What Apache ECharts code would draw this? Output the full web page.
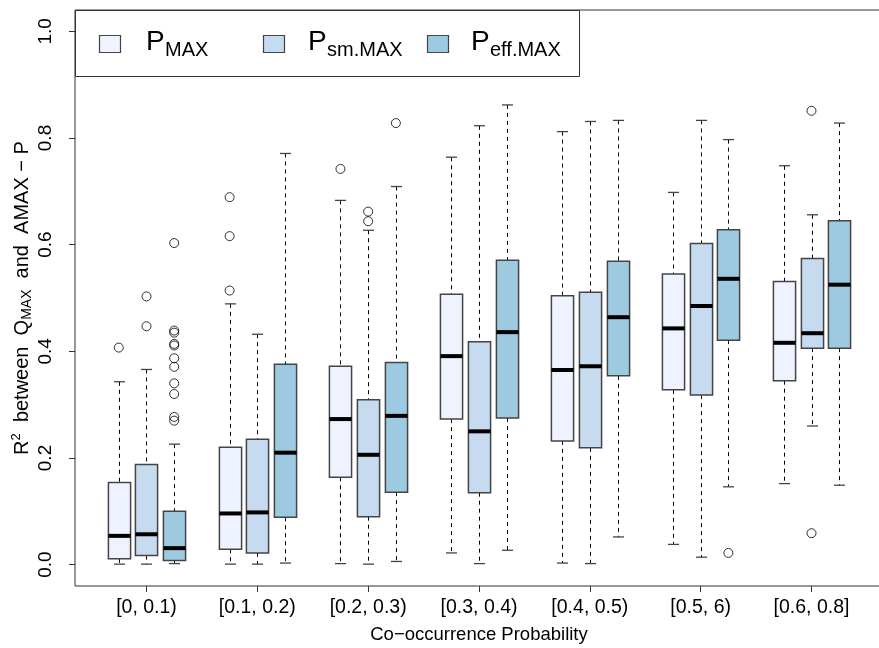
<!DOCTYPE html>
<html>
<head>
<meta charset="utf-8">
<script src="https://cdn.jsdelivr.net/npm/echarts@6/dist/echarts.min.js"></script>
<style>
  html, body { margin: 0; padding: 0; background: #fff; }
  #chart { width: 879px; height: 648px; }
</style>
</head>
<body>
<div id="chart"></div>
<script>
const categories = ["[0, 0.1)", "[0.1, 0.2)", "[0.2, 0.3)", "[0.3, 0.4)", "[0.4, 0.5)", "[0.5, 6)", "[0.6, 0.8]"];
const seriesNames = ["P_MAX", "P_sm.MAX", "P_eff.MAX"];
const yTicks = [0, 0.2, 0.4, 0.6, 0.8, 1.0];

// each row: [lower whisker, Q1, median, Q3, upper whisker]
const pMax = [
  [0.001, 0.011, 0.054, 0.154, 0.343],
  [0.001, 0.029, 0.096, 0.220, 0.489],
  [0.002, 0.164, 0.273, 0.372, 0.683],
  [0.022, 0.273, 0.391, 0.507, 0.764],
  [0.003, 0.232, 0.365, 0.504, 0.812],
  [0.038, 0.328, 0.443, 0.545, 0.698],
  [0.152, 0.345, 0.416, 0.531, 0.748]
];
const pSmMax = [
  [0.001, 0.017, 0.057, 0.188, 0.366],
  [0.001, 0.022, 0.098, 0.235, 0.432],
  [0.001, 0.090, 0.206, 0.309, 0.627],
  [0.002, 0.135, 0.250, 0.418, 0.823],
  [0.002, 0.219, 0.372, 0.511, 0.831],
  [0.014, 0.318, 0.485, 0.602, 0.833],
  [0.260, 0.406, 0.434, 0.574, 0.656]
];
const pEffMax = [
  [0.002, 0.008, 0.031, 0.100, 0.226],
  [0.003, 0.089, 0.210, 0.376, 0.771],
  [0.006, 0.136, 0.279, 0.379, 0.709],
  [0.027, 0.275, 0.436, 0.571, 0.862],
  [0.052, 0.354, 0.464, 0.569, 0.833],
  [0.146, 0.421, 0.536, 0.628, 0.797],
  [0.149, 0.406, 0.525, 0.645, 0.828]
];

// outliers: [group index, value]
const pMaxOut = [[0, 0.407], [1, 0.689], [1, 0.616], [1, 0.514], [2, 0.742]];
const pSmMaxOut = [[0, 0.503], [0, 0.447], [2, 0.662], [2, 0.644], [6, 0.851], [6, 0.059]];
const pEffMaxOut = [
  [0, 0.603], [0, 0.439], [0, 0.435], [0, 0.414], [0, 0.411], [0, 0.387],
  [0, 0.371], [0, 0.340], [0, 0.320], [0, 0.277], [0, 0.270], [2, 0.828], [5, 0.022]
];

const colors = ["#EFF3FF", "#C6DBEF", "#9ECAE1"];
const NARROW = "'Liberation Sans Narrow', 'Liberation Sans', Arial, sans-serif";
const SANS = "'Liberation Sans', Arial, sans-serif";

// boxes sit at 1,2,3 | 5,6,7 | ... ; group centre at 4*g+2
function boxData(stats, s) {
  return stats.map((r, g) => [4 * g + 1 + s].concat(r));
}
function outData(list, s) {
  return list.map((o) => [4 * o[0] + 1 + s, o[1]]);
}

function renderBox(params, api) {
  const x = api.value(0);
  const lo = api.coord([x, api.value(1)]);
  const q1 = api.coord([x, api.value(2)]);
  const med = api.coord([x, api.value(3)]);
  const q3 = api.coord([x, api.value(4)]);
  const hi = api.coord([x, api.value(5)]);
  const w = api.size([0.8, 0])[0];
  const cx = Math.round(lo[0]) + 0.5;
  const cap = w / 4;
  const dash = { stroke: "#000", lineWidth: 1, lineDash: [4, 4] };
  const capStyle = { stroke: "#444", lineWidth: 1.3 };
  return {
    type: "group",
    children: [
      { type: "line", shape: { x1: cx, y1: hi[1], x2: cx, y2: q3[1] }, style: dash },
      { type: "line", shape: { x1: cx, y1: q1[1], x2: cx, y2: lo[1] }, style: dash },
      { type: "line", shape: { x1: cx - cap, y1: hi[1], x2: cx + cap, y2: hi[1] }, style: capStyle },
      { type: "line", shape: { x1: cx - cap, y1: lo[1], x2: cx + cap, y2: lo[1] }, style: capStyle },
      {
        type: "rect",
        shape: { x: cx - w / 2, y: q3[1], width: w, height: q1[1] - q3[1] },
        style: { fill: api.visual("color"), stroke: "#444", lineWidth: 1.5 }
      },
      {
        type: "line",
        shape: { x1: cx - w / 2, y1: med[1], x2: cx + w / 2, y2: med[1] },
        style: { stroke: "#000", lineWidth: 4 }
      }
    ]
  };
}

const allStats = [pMax, pSmMax, pEffMax];
const allOut = [pMaxOut, pSmMaxOut, pEffMaxOut];
const series = [];
allStats.forEach((st, s) => {
  series.push({
    name: seriesNames[s],
    type: "custom",
    renderItem: renderBox,
    itemStyle: { color: colors[s] },
    encode: { x: 0, y: [1, 2, 3, 4, 5] },
    data: boxData(st, s)
  });
});
allOut.forEach((o, s) => {
  series.push({
    name: seriesNames[s],
    type: "scatter",
    symbol: "circle",
    symbolSize: 9,
    itemStyle: { color: "rgba(0,0,0,0)", borderColor: "#000", borderWidth: 1 },
    data: outData(o, s)
  });
});

// legend drawn by hand to copy the R layout
const legendX = [99, 263, 427];
const legendP = [146, 308, 471];
const legendSub = ["MAX", "sm.MAX", "eff.MAX"];
const graphics = [
  {
    type: "rect",
    shape: { x: 75.5, y: 10.5, width: 504, height: 66 },
    style: { fill: "#fff", stroke: "#333", lineWidth: 1 },
    z: 10
  }
];
legendX.forEach((lx, i) => {
  graphics.push({
    type: "rect",
    shape: { x: lx + 0.5, y: 35.5, width: 21, height: 17 },
    style: { fill: colors[i], stroke: "#444", lineWidth: 1.2 },
    z: 11
  });
  graphics.push({
    type: "text",
    x: legendP[i],
    y: 42,
    style: { text: "P", font: "28px " + SANS, fill: "#000", verticalAlign: "middle" },
    z: 11
  });
  graphics.push({
    type: "text",
    x: legendP[i] + 19,
    y: 50,
    style: { text: legendSub[i], font: "20px " + SANS, fill: "#000", verticalAlign: "middle" },
    z: 11
  });
});

const chart = echarts.init(document.getElementById("chart"));
chart.setOption({
  animation: false,
  backgroundColor: "#fff",
  grid: {
    show: true,
    left: 75,
    right: -4,
    top: 10,
    bottom: 62,
    outerBoundsMode: "none",
    containLabel: false,
    borderColor: "#333",
    borderWidth: 1,
    backgroundColor: "rgba(0,0,0,0)"
  },
  xAxis: {
    type: "value",
    min: -0.58,
    max: 28.58,
    name: "Co\u2212occurrence Probability",
    nameLocation: "middle",
    nameGap: 39,
    nameTextStyle: { fontFamily: NARROW, fontSize: 18.5, color: "#000" },
    axisLine: { show: false, onZero: false },
    splitLine: { show: false },
    axisTick: { show: true, inside: false, length: 6, customValues: categories.map((c, i) => 4 * i + 2), lineStyle: { color: "#333" } },
    axisLabel: {
      customValues: categories.map((c, i) => 4 * i + 2),
      formatter: (v) => categories[Math.round((v - 2) / 4)],
      fontFamily: NARROW,
      fontSize: 19.5,
      color: "#000",
      margin: 12
    }
  },
  yAxis: {
    type: "value",
    min: -0.04,
    max: 1.04,
    name: "{t|R}{sup|2}{t|  between  Q}{sub|MAX}{t|  and  AMAX \u2212 P}",
    nameLocation: "middle",
    nameGap: 41,
    nameMoveOverlap: false,
    nameTextStyle: {
      rich: {
        t: { fontFamily: NARROW, fontSize: 20, color: "#000", lineHeight: 24 },
        sup: { fontFamily: NARROW, fontSize: 13, color: "#000", verticalAlign: "top", lineHeight: 24 },
        sub: { fontFamily: NARROW, fontSize: 14, color: "#000", verticalAlign: "bottom", lineHeight: 24 }
      }
    },
    axisLine: { show: false, onZero: false },
    splitLine: { show: false },
    axisTick: { show: true, inside: false, length: 6, customValues: yTicks, lineStyle: { color: "#333" } },
    axisLabel: {
      customValues: yTicks,
      formatter: (v) => v.toFixed(1),
      rotate: 90,
      fontFamily: NARROW,
      fontSize: 19,
      color: "#000",
      margin: 20
    }
  },
  graphic: graphics,
  series: series
});
</script>
</body>
</html>
